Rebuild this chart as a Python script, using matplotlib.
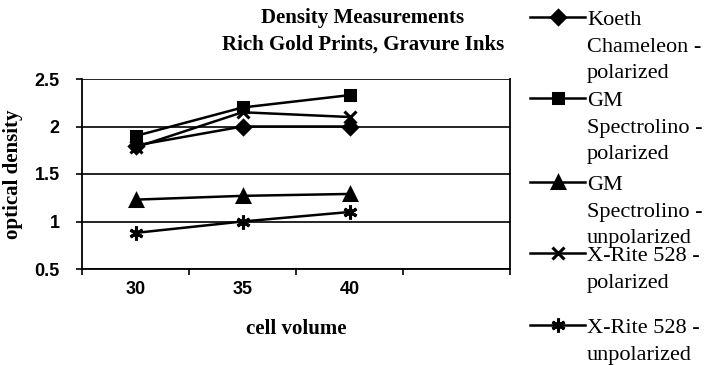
import numpy as np
import matplotlib.pyplot as plt

cell_volume = ['30', '35', '40']
koeth_pol = [1.80, 2.00, 2.00]
gm_pol = [1.90, 2.20, 2.33]
gm_unpol = [1.23, 1.27, 1.29]
xrite_pol = [1.78, 2.15, 2.10]
xrite_unpol = [0.88, 1.00, 1.10]

labels = ['Koeth\nChameleon -\npolarized',
          'GM\nSpectrolino -\npolarized',
          'GM\nSpectrolino -\nunpolarized',
          'X-Rite 528 -\npolarized',
          'X-Rite 528 -\nunpolarized']
series = [koeth_pol, gm_pol, gm_unpol, xrite_pol, xrite_unpol]
markers = ['D', 's', '^', 'x', (6, 2, 0)]
msizes = [7, 7, 8, 9, 10]

serif = 'Liberation Serif'
sans = 'Liberation Sans'

fig = plt.figure(figsize=(7.04, 3.65), dpi=100)
ax = fig.add_axes([82/704, 1-269/365, (510-82)/704, (269-79)/365])

x = np.arange(len(cell_volume))
handles = []
for vals, m, ms in zip(series, markers, msizes):
    h, = ax.plot(x, vals, color='black', lw=1.8, marker=m, ms=ms, mew=2.2)
    handles.append(h)

ax.set_xlim(-0.5, 3.5)
ax.set_ylim(0.5, 2.5)
ax.set_yticks([0.5, 1, 1.5, 2, 2.5])
ax.set_yticklabels(['0.5', '1', '1.5', '2', '2.5'], fontfamily=sans,
                   fontweight='bold', fontsize=13)
ax.set_xticks(x)
ax.set_xticklabels(cell_volume, fontfamily=sans, fontweight='bold', fontsize=13)
ax.tick_params(axis='x', length=0, pad=9)
ax.set_xticks([-0.5, 0.5, 1.5, 2.5, 3.5], minor=True)
ax.tick_params(axis='x', which='minor', length=4, width=1.2, direction='out')
ax.tick_params(axis='y', length=4, width=1.2, direction='out', pad=12)
ax.grid(axis='y', color='black', lw=1.2)
for s in ax.spines.values():
    s.set_linewidth(1.3)
ax.spines['top'].set_visible(False)

ax.set_xlabel('cell volume', fontfamily=serif, fontweight='bold', fontsize=15,
              labelpad=15)
ax.set_ylabel('optical density', fontfamily=serif, fontweight='bold',
              fontsize=15, labelpad=8)

fig.text(363/704, 1-18/365, 'Density Measurements', ha='center', va='center',
         fontfamily=serif, fontweight='bold', fontsize=15)
fig.text(363/704, 1-45/365, 'Rich Gold Prints, Gravure Inks', ha='center',
         va='center', fontfamily=serif, fontweight='bold', fontsize=15)

# legend built by hand so entries line up like the original
leg_y = [17, 98, 182, 253, 325]
for h, lab, ly, m, ms in zip(handles, labels, leg_y, markers, msizes):
    yf = 1 - ly/365
    fig.add_artist(plt.Line2D([530/704, 585/704], [yf, yf], color='black',
                              lw=1.8, transform=fig.transFigure))
    fig.add_artist(plt.Line2D([558/704], [yf], color='black', marker=m,
                              ms=ms, mew=2.2, transform=fig.transFigure))
    fig.text(587/704, yf + 6/365, lab, ha='left', va='top', fontfamily=serif,
             fontsize=16, linespacing=1.55)

fig.savefig('out.png', dpi=100)
